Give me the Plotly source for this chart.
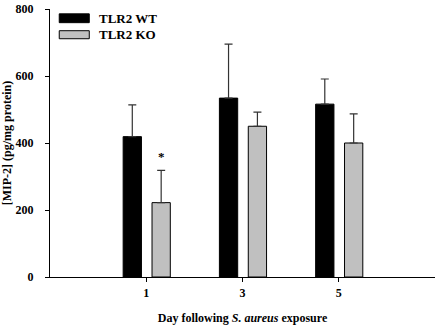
import plotly.graph_objects as go

days = ["1", "3", "5"]
wt_mean = [419, 534, 516]
wt_upper = [514, 695, 591]
ko_mean = [222, 450, 400]
ko_upper = [318, 492, 487]
sig_marks = ["*", "", ""]
y_ticks = [0, 200, 400, 600, 800]
series_names = ["TLR2 WT", "TLR2 KO"]
series_colors = ["black", "#c0c0c0"]

pos = list(range(len(days)))
FONT = "Liberation Serif"

fig = go.Figure()
for name, color, mean, upper, off in [
    (series_names[0], series_colors[0], wt_mean, wt_upper, -0.24),
    (series_names[1], series_colors[1], ko_mean, ko_upper, 0.06),
]:
    fig.add_trace(go.Bar(
        x=pos, y=mean, name=name, width=0.19, offset=off, showlegend=False,
        marker=dict(color=color, line=dict(color="black", width=1)),
        error_y=dict(type="data", symmetric=False,
                     array=[u - m for u, m in zip(upper, mean)],
                     arrayminus=[0] * len(days), color="#333333",
                     thickness=1.2, width=4),
    ))

for p, s, u in zip(pos, sig_marks, ko_upper):
    if s:
        fig.add_annotation(x=p + 0.155, y=u + 12, text="<b>" + s + "</b>", showarrow=False,
                           font=dict(family=FONT, size=13, color="black"),
                           yanchor="bottom")

# legend drawn as wide rectangular swatches like the original
leg_rows = [(0.982, 0.949), (0.919, 0.889)]
for (y1, y0), name, color in zip(leg_rows, series_names, series_colors):
    fig.add_shape(type="rect", xref="paper", yref="paper",
                  x0=0.024, x1=0.102, y0=y0, y1=y1,
                  fillcolor=color, line=dict(color="black", width=1))
    fig.add_annotation(xref="paper", yref="paper", x=0.122, y=(y0 + y1) / 2,
                       text="<b>" + name + "</b>", showarrow=False,
                       xanchor="left", yanchor="middle",
                       font=dict(family=FONT, size=13, color="black"))

fig.update_layout(
    width=437, height=325,
    margin=dict(l=50, r=2, t=6, b=48),
    plot_bgcolor="white", paper_bgcolor="white",
    font=dict(family=FONT, color="black", size=12),
    showlegend=False,
    xaxis=dict(range=[-1, 3], tickvals=pos, ticktext=days,
               showline=True, linecolor="black", linewidth=1,
               ticks="outside", ticklen=4, tickcolor="black",
               showgrid=False, zeroline=False, ticklabelstandoff=1,
               tickfont=dict(family=FONT, size=12, weight="bold"),
               title=dict(text="<b>Day following <i>S. aureus</i> exposure</b>",
                          font=dict(family=FONT, size=12), standoff=14)),
    yaxis=dict(range=[0, 800], tickvals=y_ticks,
               showline=True, linecolor="black", linewidth=1,
               ticks="outside", ticklen=4, tickcolor="black",
               showgrid=False, zeroline=False, ticklabeloverflow="allow",
               ticklabelstandoff=9,
               tickfont=dict(family=FONT, size=12, weight="bold"),
               title=dict(text="<b>[MIP-2] (pg/mg protein)</b>",
                          font=dict(family=FONT, size=12), standoff=4)),
)

fig.write_html("out.html", config={"displayModeBar": False},
               post_script="document.body.style.margin='0';")
